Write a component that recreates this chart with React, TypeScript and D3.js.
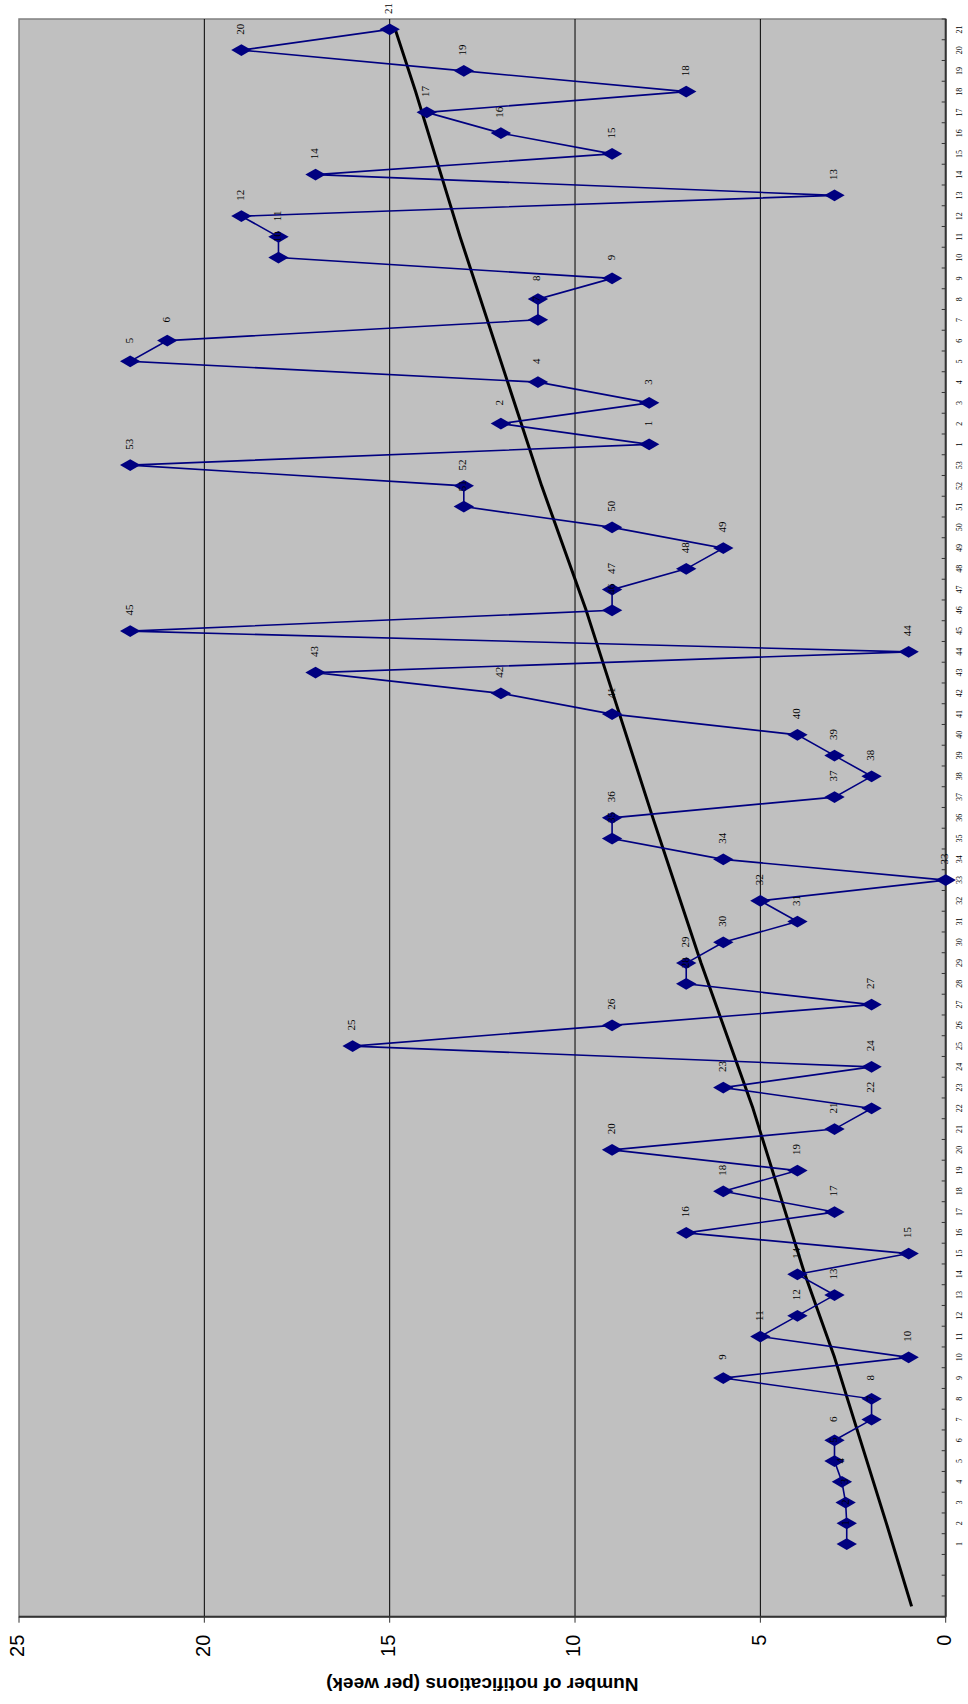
import React from "react";
import * as d3 from "d3";

const weekLabels = [
  "", "", "",
  "1","2","3","4","5","6","7","8","9","10","11","12","13","14","15","16","17","18","19","20",
  "21","22","23","24","25","26","27","28","29","30","31","32","33","34","35","36","37","38","39","40",
  "41","42","43","44","45","46","47","48","49","50","51","52","53",
  "1","2","3","4","5","6","7","8","9","10","11","12","13","14","15","16","17","18","19","20","21",
];

const notifications: (number | null)[] = [
  null, null, null,
  2.67, 2.67, 2.7, 2.8, 3, 3, 2, 2, 6, 1, 5, 4, 3, 4, 1, 7, 3, 6, 4, 9,
  3, 2, 6, 2, 16, 9, 2, 7, 7, 6, 4, 5, 0, 6, 9, 9, 3, 2, 3, 4,
  9, 12, 17, 1, 22, 9, 9, 7, 6, 9, 13, 13, 22,
  8, 12, 8, 11, 22, 21, 11, 11, 9, 18, 18, 19, 3, 17, 9, 12, 14, 7, 13, 19, 15,
];

// trend line read at selected categories (category index, value)
const trendIndex = [0, 4, 8, 12, 16, 24, 31, 38, 43, 48, 54, 60, 66, 73, 76];
const trendValue = [0.92, 1.6, 2.3, 3.0, 3.8, 5.2, 6.6, 7.9, 8.8, 9.7, 10.9, 12.0, 13.1, 14.3, 14.85];

const valueTicks = [0, 5, 10, 15, 20, 25];

const W = 1704; // original (unrotated) width

export default function App() {
  const left = 87.3, right = 1685, top = 19, bottom = 945.7;
  const idx = weekLabels.map((_, i) => i);
  const x = d3.scaleBand<number>().domain(idx).range([left, right]).padding(0);
  const cx = (i: number) => (x(i) as number) + x.bandwidth() / 2;
  const y = d3.scaleLinear().domain([0, 25]).range([bottom, top]);

  const pts = notifications
    .map((v, i) => ({ v, i }))
    .filter((d) => d.v !== null) as { v: number; i: number }[];

  const dataLine = d3
    .line<{ v: number; i: number }>()
    .x((d) => cx(d.i))
    .y((d) => y(d.v))(pts) as string;

  const trendLine = d3
    .line<number>()
    .x((_, k) => cx(trendIndex[k]))
    .y((v) => y(v))(trendValue) as string;

  const diamond = d3.symbol().type(d3.symbolDiamond).size(120)() as string;

  const boundaries = d3.range(idx.length + 1).map((k) => left + k * x.step());

  return (
    <svg
      width={968}
      height={1704}
      style={{ position: "absolute", left: 0, top: 0, background: "#fff" }}
    >
      <g transform={`translate(0,${W}) rotate(-90)`}>
        <rect x={left} y={top} width={right - left} height={bottom - top} fill="#C0C0C0" stroke="#808080" strokeWidth={1.5} />
        {valueTicks.filter((t) => t > 0 && t < 25).map((t) => (
          <line key={"g" + t} x1={left} x2={right} y1={y(t)} y2={y(t)} stroke="#000" strokeWidth={1} />
        ))}
        <line x1={left} x2={left} y1={top} y2={bottom} stroke="#333" strokeWidth={2} />
        <line x1={left} x2={right} y1={bottom} y2={bottom} stroke="#333" strokeWidth={2} />
        {valueTicks.map((t) => (
          <g key={"t" + t}>
            <line x1={left - 6} x2={left} y1={y(t)} y2={y(t)} stroke="#333" strokeWidth={1} />
            <text
              x={left - 18}
              y={y(t)}
              textAnchor="end"
              dominantBaseline="middle"
              fontFamily="Liberation Sans, Arial, sans-serif"
              fontSize={20}
              fill="#000"
            >
              {t}
            </text>
          </g>
        ))}
        {boundaries.map((b, k) => (
          <line key={"c" + k} x1={b} x2={b} y1={bottom} y2={bottom - 4} stroke="#333" strokeWidth={1} />
        ))}
        {weekLabels.map((l, i) => (
          <text
            key={"l" + i}
            x={cx(i)}
            y={bottom + 14}
            textAnchor="middle"
            dominantBaseline="middle"
            fontFamily="Liberation Serif, Times New Roman, serif"
            fontSize={8}
            fill="#000"
          >
            {l}
          </text>
        ))}
        <text
          transform={`translate(${W - 1683},${(top + bottom) / 2}) rotate(-90)`}
          textAnchor="middle"
          dominantBaseline="middle"
          fontFamily="Liberation Sans, Arial, sans-serif"
          fontWeight="bold"
          fontSize={19}
          fill="#000"
        >
          Number of notifications (per week)
        </text>
        <path d={trendLine} fill="none" stroke="#000" strokeWidth={3} strokeLinejoin="round" />
        <path d={dataLine} fill="none" stroke="#000080" strokeWidth={1.6} />
        {pts.map((d) => (
          <path key={"p" + d.i} d={diamond} transform={`translate(${cx(d.i)},${y(d.v)})`} fill="#000080" />
        ))}
        {pts.map((d) => (
          <text
            key={"d" + d.i}
            x={cx(d.i) + 21}
            y={y(d.v)}
            textAnchor="middle"
            dominantBaseline="middle"
            fontFamily="Liberation Serif, Times New Roman, serif"
            fontSize={11}
            fill="#000"
          >
            {weekLabels[d.i]}
          </text>
        ))}
      </g>
    </svg>
  );
}
